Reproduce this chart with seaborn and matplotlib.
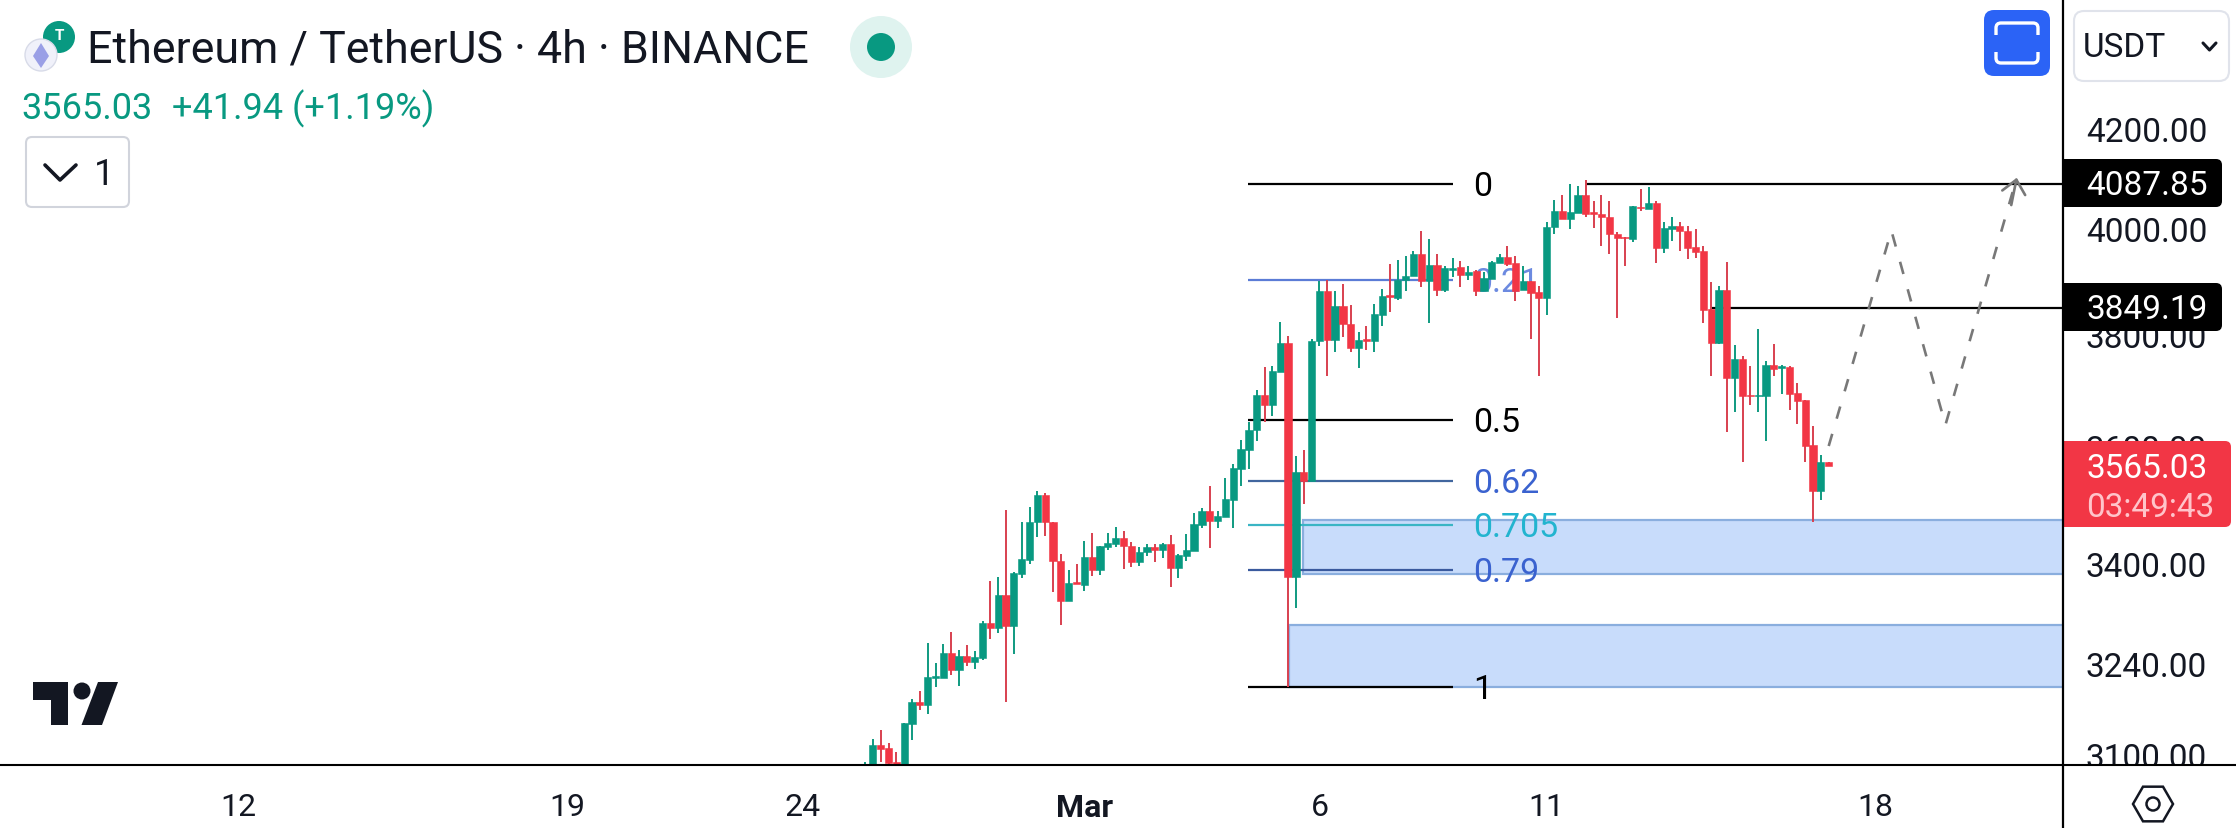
import numpy as np
import pandas as pd
import matplotlib
matplotlib.use('Agg')
import matplotlib.pyplot as plt
from matplotlib.patches import FancyBboxPatch, Rectangle, Circle, Polygon, RegularPolygon
from matplotlib.ticker import NullLocator
import seaborn as sns

# candles
highs = [3089.4,3123.5,3137.2,3117.4,3103.2,3147.9,3184.5,3196.5,3272.2,3240.7,
         3270.6,3289.8,3260.5,3269.0,3259.5,3307.4,3372.2,3378.8,3490.2,3386.4,
         3469.5,3494.7,3523.0,3519.0,3470.6,3416.0,3390.2,3399.5,3437.6,3451.0,
         3429.2,3451.0,3461.1,3454.4,3435.9,3427.5,3433.1,3432.5,3434.8,3448.2,
         3416.0,3449.9,3484.6,3493.0,3531.1,3488.5,3544.9,3569.0,3610.7,3642.6,
         3699.9,3740.2,3742.0,3822.7,3796.8,3582.2,3593.1,3791.8,3900.7,3902.6,
         3881.1,3894.3,3854.8,3804.2,3815.3,3856.6,3884.9,3932.3,3940.5,3946.9,
         3956.4,3995.8,3980.2,3951.3,3929.1,3943.7,3937.4,3929.1,3919.7,3916.5,
         3938.6,3951.3,3966.0,3946.9,3927.9,3900.7,3889.9,4012.6,4055.3,4065.9,
         4087.8,4083.1,4095.8,4053.4,4065.9,4053.4,3993.2,3983.5,4045.0,4078.5,
         4081.8,4053.4,4012.6,4022.3,4012.6,4006.1,3999.7,3967.3,3897.5,3891.2,
         3935.5,3780.7,3761.3,3742.0,3809.9,3751.0,3782.5,3744.4,3742.0,3711.9,
         3681.3,3635.9,3584.5,3573.0]
body_tops = [3080.9,3114.3,3114.3,3109.7,3089.4,3147.9,3179.4,3179.4,3218.9,3219.9,
             3256.3,3256.3,3252.2,3251.1,3250.1,3304.2,3304.2,3349.3,3349.3,3385.3,
             3408.3,3469.5,3515.6,3515.6,3469.5,3404.5,3368.9,3370.0,3411.6,3411.6,
             3429.2,3434.2,3442.6,3442.6,3430.3,3419.2,3427.5,3427.5,3432.5,3432.5,
             3414.9,3422.5,3466.1,3488.5,3488.5,3479.6,3508.1,3561.5,3594.8,3628.9,
             3690.2,3690.2,3733.6,3784.4,3784.4,3554.6,3554.6,3788.7,3881.1,3881.1,
             3852.3,3852.3,3819.0,3790.0,3791.9,3837.5,3871.0,3873.5,3902.0,3908.9,
             3951.3,3951.3,3930.4,3930.4,3924.8,3924.8,3926.0,3916.5,3917.8,3905.1,
             3935.5,3945.0,3945.0,3934.2,3900.0,3900.0,3878.6,4002.9,4034.0,4034.0,
             4032.0,4065.9,4065.9,4032.0,4028.2,4023.0,3989.3,3983.5,4045.0,4043.0,
             4050.2,4050.2,4001.0,4004.8,4004.8,3995.8,3964.0,3956.4,3847.4,3883.0,
             3883.0,3755.2,3755.2,3690.8,3690.8,3744.4,3744.4,3742.0,3740.8,3693.8,
             3681.3,3601.9,3571.8,3571.8]
body_bottoms = [3053.6,3073.5,3108.2,3087.4,3085.9,3085.9,3146.3,3175.9,3175.9,3217.8,
                3217.8,3230.3,3230.3,3242.8,3242.8,3248.0,3296.8,3296.8,3300.0,3300.0,
                3383.7,3407.2,3469.5,3469.5,3404.5,3340.0,3340.0,3366.7,3366.2,3390.8,
                3390.8,3428.6,3433.1,3430.3,3404.0,3404.0,3419.2,3423.6,3423.1,3394.1,
                3394.1,3413.8,3421.4,3465.0,3472.3,3472.3,3479.0,3507.6,3560.4,3593.7,
                3628.9,3673.0,3673.0,3732.4,3378.2,3378.2,3539.1,3540.2,3788.1,3790.6,
                3790.6,3819.0,3775.8,3775.8,3788.7,3788.1,3836.9,3869.7,3867.8,3901.3,
                3908.9,3900.7,3900.7,3883.6,3883.6,3920.9,3912.1,3911.5,3881.7,3881.7,
                3903.9,3934.2,3933.0,3881.7,3883.6,3877.3,3867.2,3867.2,4002.3,4017.8,
                4017.8,4030.7,4028.8,4029.4,4021.7,3988.7,3981.5,3981.5,3980.2,4039.8,
                4039.2,3963.4,3963.4,3999.7,3994.5,3962.7,3955.7,3846.2,3785.0,3784.4,
                3721.5,3721.5,3689.0,3688.4,3688.4,3689.0,3737.2,3738.4,3692.6,3680.1,
                3600.7,3523.0,3523.0,3565.03]
lows = [3043.7,3068.6,3088.4,3080.9,3080.9,3080.9,3122.4,3168.2,3162.1,3203.7,
        3217.8,3222.0,3205.3,3236.6,3231.3,3245.9,3278.6,3288.3,3179.4,3255.3,
        3376.6,3400.1,3445.4,3447.1,3353.6,3301.6,3340.0,3366.7,3356.4,3381.0,
        3382.6,3423.1,3427.5,3391.9,3394.7,3397.3,3412.7,3404.0,3410.5,3362.9,
        3377.7,3405.6,3421.4,3459.9,3425.8,3459.4,3479.0,3460.5,3530.5,3560.4,
        3609.5,3642.6,3653.6,3732.4,3202.7,3327.7,3500.3,3540.2,3779.5,3725.1,
        3767.3,3795.0,3767.3,3738.4,3772.1,3767.3,3815.3,3842.5,3864.7,3881.7,
        3908.9,3888.0,3822.1,3872.2,3879.8,3907.0,3889.3,3902.6,3872.2,3881.7,
        3903.9,3934.2,3929.1,3862.8,3883.6,3791.8,3725.1,3835.7,3988.7,4017.8,
        3999.7,4030.7,4023.6,4001.6,3967.3,3951.9,3831.3,3929.1,3975.0,4035.3,
        4039.2,3934.9,3953.8,3977.0,3957.6,3941.8,3944.3,3821.5,3725.1,3782.6,
        3625.4,3659.5,3571.8,3673.0,3660.6,3609.5,3725.1,3692.0,3664.2,3638.9,
        3571.8,3470.6,3507.6,3565.0]
directions = list("GGRRRGGRGG" "GRGRGGRGRG" "GGGRRRGRGR" "GGGRRGGRGR"
                  "GGGGRGGGGG" "GRGGRGRGGR" "GRRGRGGRGG" "GRGRGGRGRG"
                  "GGRRGRRGGR" "GGRRRRRRGR" "GRGGRRRRRG" "RGRRGGRGRR" "RRGR")

fib_ratios = ['0', '0.21', '0.5', '0.62', '0.705', '0.79', '1']
fib_prices = [4087.85, 3902.2, 3645.8, 3539.8, 3464.6, 3389.5, 3203.8]
fib_line_colors = ['#000000', '#5b7cd6', '#000000', '#41669e', '#3ab5c4', '#3a5a9e', '#000000']
fib_text_colors = ['#000000', '#6c8ae0', '#000000', '#3a62cf', '#22b4cf', '#3a62cf', '#000000']

zones = [(55.9, 3383.3, 3473.2), (54.1, 3203.0, 3301.2)]
hlines = [(92.1, 4087.85), (108.1, 3849.19)]

path_x = [123, 131.0, 137.9, 147.0]
path_y = [3600.0, 3996.0, 3637.0, 4100.0]

y_ticks = [3100, 3240, 3400, 3600, 3800, 4000, 4200]
x_ticks = [-80, -38, -8, 28, 58, 87, 129]
x_labels = ['12', '19', '24', 'Mar', '6', '11', '18']

RED = '#f23645'
GREEN = '#089981'
INK = '#131722'
W, H = 2236, 829
BASE = 766
DIV = 2063
X0 = 865
STEP = 7.835

sns.set_theme(style='white')
plt.rcParams['font.family'] = ['Roboto', 'DejaVu Sans']

fig = plt.figure(figsize=(W / 100, H / 100), dpi=100, facecolor='white')
ax = fig.add_axes([0, (H - BASE) / H, DIV / W, BASE / H], zorder=1)
ax.set_yscale('log')

idx = np.arange(len(highs))
up = np.array(directions) == 'G'
tops = np.array(body_tops)
bots = np.array(body_bottoms)

# price zones and fib levels sit under the candles
for left, low, high in zones:
    ax.add_patch(Rectangle((left, low), 400, high - low, facecolor='#c8dcfb',
                           edgecolor='#8aaede', linewidth=1.6, zorder=1))
for price, col in zip(fib_prices, fib_line_colors):
    ax.plot([48.9, 75.0], [price, price], color=col, lw=1.6, zorder=2, solid_capstyle='butt')
for start, price in hlines:
    ax.plot([start, 400], [price, price], color='black', lw=1.6, zorder=2)

for label, price, col in zip(fib_ratios, fib_prices, fib_text_colors):
    z = 2 if label == '0.21' else 4
    ax.annotate(label, xy=(77.6, price), xytext=(0, -1.5), textcoords='offset points',
                color=col, fontsize=24.5, va='center', ha='left', zorder=z)

wicks = pd.DataFrame({
    'i': np.concatenate([idx, idx]),
    'price': lows + highs,
    'dir': directions + directions,
})
sns.lineplot(data=wicks, x='i', y='price', hue='dir', units='i', estimator=None,
             palette={'G': '#0f9a80', 'R': '#d8404f'}, linewidth=1.4, legend=False,
             solid_capstyle='butt', zorder=3, ax=ax)
ax.bar(idx, tops - bots, bottom=bots, width=0.92,
       color=[GREEN if u else RED for u in up], linewidth=0.4,
       edgecolor=[GREEN if u else RED for u in up], zorder=3.2)

sns.lineplot(x=path_x, y=path_y, color='#787878', linewidth=1.9, linestyle=(0, (4.8, 6)),
             estimator=None, sort=False, zorder=3.5, ax=ax)
ax.annotate('', xy=(path_x[-1], path_y[-1]), xytext=(146.3, 4046),
            arrowprops=dict(arrowstyle='->,head_length=0.8,head_width=0.7', color='#787878',
                            lw=1.9, shrinkA=0, shrinkB=0), zorder=3.5)

ax.set_xlim((0 - X0) / STEP, (DIV - X0) / STEP)
ax.set_ylim(3084.3, 4471.0)
ax.set_xlabel('')
ax.set_ylabel('')
ax.set_xticks([])
ax.yaxis.tick_right()
ax.set_yticks(y_ticks, [f'{v:.2f}' for v in y_ticks])
ax.yaxis.set_minor_locator(NullLocator())
ax.tick_params(axis='y', length=0, pad=16.5, labelsize=24, labelcolor=INK)
for s in ax.spines.values():
    s.set_visible(False)

# time scale strip, covers the foot of the 3100 label
strip = fig.add_axes([0, 0, 1, (H - BASE) / H], zorder=2, facecolor='white')
strip.set_xlim((0 - X0) / STEP, (W - X0) / STEP)
strip.set_yticks([])
strip.set_xticks(x_ticks, x_labels)
strip.tick_params(axis='x', length=0, pad=-26, labelsize=23, labelcolor=INK)
strip.get_xticklabels()[3].set_fontweight('bold')
for name, s in strip.spines.items():
    s.set_visible(name == 'top')
strip.spines['top'].set_color('black')
strip.spines['top'].set_linewidth(1.5)

# everything else is screen furniture, laid out in pixels
ui = fig.add_axes([0, 0, 1, 1], zorder=3, facecolor='none')
ui.set_xlim(0, W)
ui.set_ylim(H, 0)
ui.axis('off')


def rbox(x0, y0, x1, y1, r, **kw):
    ui.add_patch(FancyBboxPatch((x0 + r, y0 + r), x1 - x0 - 2 * r, y1 - y0 - 2 * r,
                                boxstyle=f'round,pad={r},rounding_size={r}', **kw))


def tag(y0, y1, x1, col):
    # square on the scale line, rounded on the outer side
    ui.add_patch(Rectangle((DIV, y0), 20, y1 - y0, facecolor=col, edgecolor='none'))
    rbox(DIV + 5, y0, x1, y1, 6, facecolor=col, edgecolor='none')


# price tags
tag(160, 208, 2222, 'black')
tag(284, 332, 2222, 'black')
tag(442, 528, 2231, RED)
ui.text(2086, 186, '4087.85', color='white', fontsize=24, va='center', ha='left')
ui.text(2086, 310, '3849.19', color='white', fontsize=24, va='center', ha='left')
ui.text(2086, 469, '3565.03', color='white', fontsize=24, va='center', ha='left')
ui.text(2086, 508, '03:49:43', color='#ffc4ca', fontsize=24, va='center', ha='left')
ui.plot([DIV, DIV], [0, H], color='black', lw=1.6)

# header
ui.text(87, 50, 'Ethereum / TetherUS · 4h · BINANCE', color=INK, fontsize=32.2, va='center', ha='left')
ui.text(21, 109, '3565.03', color=GREEN, fontsize=26, va='center', ha='left')
ui.text(172, 109, '+41.94 (+1.19%)', color=GREEN, fontsize=26, va='center', ha='left')
ui.add_patch(Circle((59, 38), 16, facecolor=GREEN, edgecolor='none'))
ui.text(59, 36, 'T', color='white', fontsize=11, fontweight='bold', va='center', ha='center')
ui.add_patch(Circle((41, 56), 16, facecolor='#f0f1fa', edgecolor='#d8dbe8', lw=1))
ui.add_patch(Polygon([(41, 44), (49, 57), (41, 69), (33, 57)], facecolor='#9a9fe6', edgecolor='none'))
ui.add_patch(Circle((881, 48), 31, facecolor='#dff3ef', edgecolor='none'))
ui.add_patch(Circle((881, 48), 14, facecolor=GREEN, edgecolor='none'))

rbox(26, 138, 129, 208, 6, facecolor='white', edgecolor='#d1d4dc', lw=1.5)
ui.plot([45, 60, 76], [166, 181, 166], color=INK, lw=2.6, solid_capstyle='round', solid_joinstyle='round')
ui.text(104, 175, '1', color=INK, fontsize=26, va='center', ha='center')

# fullscreen button
rbox(1984, 11, 2050, 77, 10, facecolor='#2b63f6', edgecolor='none')
rbox(1996, 24, 2038, 64, 5, facecolor='none', edgecolor='white', lw=2.4)
ui.add_patch(Rectangle((1990, 36), 54, 17, facecolor='#2b63f6', edgecolor='none'))

# currency box
rbox(2074, 12, 2229, 82, 10, facecolor='white', edgecolor='#e0e3eb', lw=1.5)
ui.text(2083, 48, 'USDT', color=INK, fontsize=24, va='center', ha='left')
ui.plot([2203, 2209.5, 2216], [44, 51, 44], color=INK, lw=2.2, solid_capstyle='round')

# settings icon
ui.add_patch(RegularPolygon((2153, 805), 6, radius=20, orientation=np.pi / 6, facecolor='none',
                            edgecolor=INK, lw=1.8))
ui.add_patch(Circle((2153, 805), 6.5, facecolor='none', edgecolor=INK, lw=1.8))

# tradingview mark
ui.add_patch(Polygon([(33, 683), (68, 683), (68, 726), (50.5, 726), (50.5, 701), (33, 701)],
                     facecolor=INK, edgecolor='none'))
ui.add_patch(Circle((82, 692), 8.5, facecolor=INK, edgecolor='none'))
ui.add_patch(Polygon([(98, 683), (118, 683), (102, 726), (81.5, 726)], facecolor=INK, edgecolor='none'))

fig.savefig('out.png', dpi=100)
plt.close(fig)
